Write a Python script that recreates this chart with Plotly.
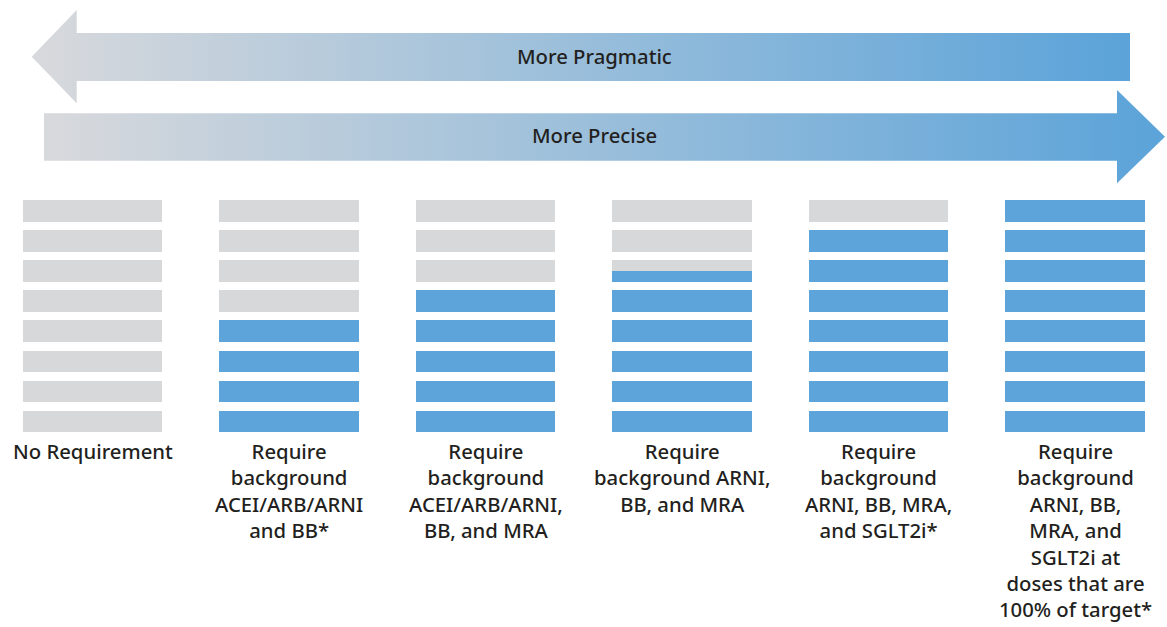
import plotly.graph_objects as go

# ---- data ----
categories = ["No Requirement", "ACEI/ARB/ARNI + BB", "ACEI/ARB/ARNI + BB + MRA",
              "ARNI + BB + MRA", "ARNI + BB + MRA + SGLT2i", "All at 100% target dose"]
tick_labels = [
    "No Requirement",
    "Require<br>background<br>ACEI/ARB/ARNI<br>and BB*",
    "Require<br>background<br>ACEI/ARB/ARNI,<br>BB, and MRA",
    "Require<br>background ARNI,<br>BB, and MRA",
    "Require<br>background<br>ARNI, BB, MRA,<br>and SGLT2i*",
    "Require<br>background<br>ARNI, BB,<br>MRA, and<br>SGLT2i at<br>doses that are<br>100% of target*",
]
filled_slots = [0, 4, 5, 5.5, 7, 8]
total_slots = 8
arrow_labels = ["More Pragmatic", "More Precise"]

# ---- style ----
W, H = 1167, 627
GRAY = "#d7d8da"
BLUE = "#5ca4da"
TEXT = "#231f20"
FONT = "Noto Sans"
FSIZE = 20.3
BAR_H = 0.72
BAR_W = 0.71

fig = go.Figure()
xs = list(range(len(categories)))
for s in range(total_slots):
    fig.add_trace(go.Bar(x=xs, y=[BAR_H] * len(xs), base=[s] * len(xs), width=BAR_W,
                         marker=dict(color=GRAY, line=dict(width=0)),
                         showlegend=False, hoverinfo="skip"))
    blue = [max(0.0, min(1.0, v - s)) * BAR_H for v in filled_slots]
    fig.add_trace(go.Bar(x=xs, y=blue, base=[s] * len(xs), width=BAR_W,
                         marker=dict(color=BLUE, line=dict(width=0)),
                         showlegend=False, hoverinfo="skip"))

# ---- gradient arrows (pixel space on overlay axes) ----
grad = [[0, "#d8d9dc"], [1, "#5ba3d9"]]
left_arrow = dict(x=[31.7, 76.7, 76.7, 1130, 1130, 76.7, 76.7, 31.7],
                  y=[56.7, 10, 33, 33, 81, 81, 103.3, 56.7])
right_arrow = dict(x=[44, 1117, 1117, 1165, 1117, 1117, 44, 44],
                   y=[113.3, 113.3, 90, 136.7, 183.3, 160.7, 160.7, 113.3])
for a in (left_arrow, right_arrow):
    fig.add_trace(go.Scatter(x=a["x"], y=a["y"], xaxis="x2", yaxis="y2", mode="lines",
                             line=dict(width=0), fill="toself",
                             fillgradient=dict(type="horizontal", colorscale=grad),
                             showlegend=False, hoverinfo="skip"))

annotations = []
for lbl, yy in zip(arrow_labels, [56, 135]):
    annotations.append(dict(text=lbl, x=594, y=yy, xref="x2", yref="y2", showarrow=False,
                            font=dict(family=FONT, size=FSIZE, color=TEXT, weight=500)))
for i, t in enumerate(tick_labels):
    annotations.append(dict(text=t, x=i, y=-0.1, xref="x", yref="y", showarrow=False,
                            yanchor="top", xanchor="center", align="center",
                            font=dict(family=FONT, size=FSIZE, color=TEXT, weight=500)))

px_per_slot = 30.07
y0_px = 432.3
fig.update_layout(
    width=W, height=H, margin=dict(l=0, r=0, t=0, b=0),
    paper_bgcolor="white", plot_bgcolor="white",
    barmode="overlay", bargap=0,
    xaxis=dict(range=[-92.5 / 196.5, (W - 92.5) / 196.5], visible=False, fixedrange=True),
    yaxis=dict(range=[(y0_px - H) / px_per_slot, y0_px / px_per_slot], visible=False, fixedrange=True),
    xaxis2=dict(range=[0, W], overlaying="x", visible=False, fixedrange=True),
    yaxis2=dict(range=[H, 0], overlaying="y", visible=False, fixedrange=True),
    annotations=annotations,
    showlegend=False,
)
fig.write_html("out.html", config={"displayModeBar": False},
               post_script="document.body.style.margin='0';document.body.style.overflow='hidden';")
